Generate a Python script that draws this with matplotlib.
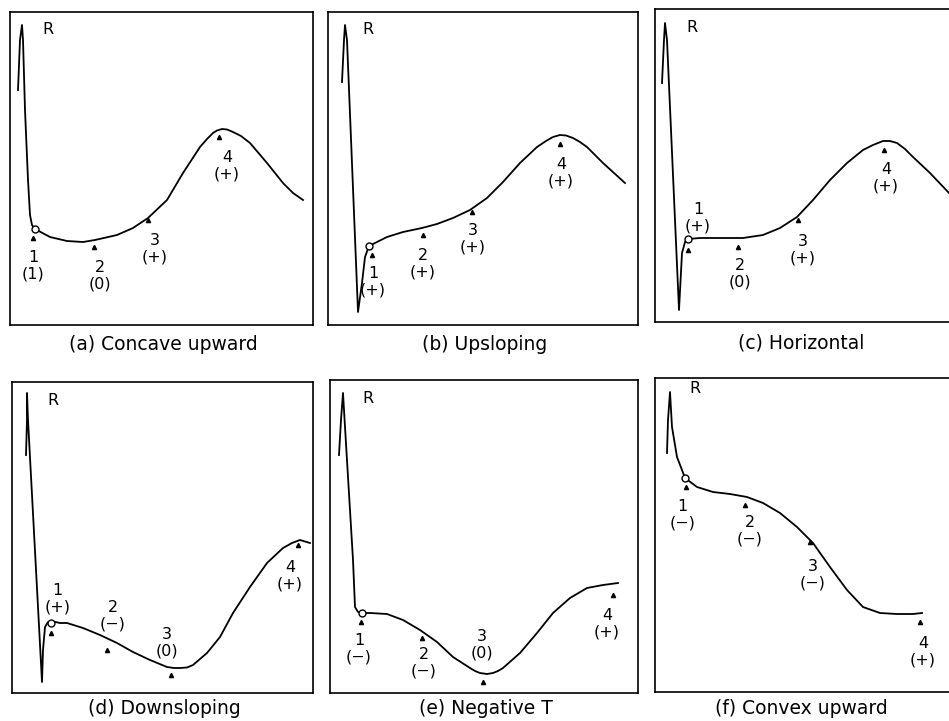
import matplotlib
matplotlib.use("Agg")
import matplotlib.pyplot as plt

plt.rcParams['font.family'] = ['DejaVu Sans']

# ---- data (panel-local pixel units: x from left edge, y from top edge) ----
titles = ["(a) Concave upward", "(b) Upsloping", "(c) Horizontal",
          "(d) Downsloping", "(e) Negative T", "(f) Convex upward"]

a_x = [8, 10, 12, 13, 15, 18, 20, 22, 25, 40, 57, 73, 85, 107, 123, 138, 157, 173, 190, 197, 203, 207, 212, 217, 223, 231, 240, 257, 273, 283, 293]
a_y = [78, 28, 13, 28, 98, 168, 203, 213, 217, 225, 229, 230, 228, 223, 216, 206, 188, 161, 135, 127, 121, 118.5, 117, 117.5, 120, 124, 131, 151, 171, 181, 188]
b_x = [14, 16, 17, 19, 30, 34, 37, 41, 59, 75, 94, 109, 125, 142, 159, 175, 192, 209, 218, 225, 232, 238, 245, 252, 259, 275, 297]
b_y = [70, 28, 13, 28, 300, 271, 245, 234, 225, 220, 216, 212, 206, 198, 186, 170, 151, 135, 129, 125, 123, 123.5, 126, 130, 135, 151, 171]
c_x = [7, 9, 10, 12, 24, 27, 30, 33, 45, 88, 108, 125, 142, 158, 175, 192, 208, 218, 228, 235, 242, 250, 258, 275, 294]
c_y = [74, 31, 14, 31, 301, 244, 233, 230, 229, 229, 226, 219, 208, 191, 171, 154, 141, 136, 132, 132, 134, 140, 148, 164, 184]
d_x = [14, 15, 15, 16, 30, 31, 33, 36, 39, 48, 55, 71, 88, 105, 121, 138, 155, 162, 168, 175, 181, 195, 208, 221, 238, 255, 271, 280, 288, 298]
d_y = [73, 38, 11, 38, 300, 268, 245, 240, 239, 241, 241, 246, 253, 261, 270, 278, 285, 286, 286, 285.5, 283, 271, 255, 231, 205, 181, 166, 161, 158, 161]
e_x = [9, 11, 13, 15, 23, 25, 28, 32, 40, 57, 73, 90, 107, 123, 140, 145, 150, 157, 163, 168, 173, 190, 207, 223, 240, 257, 273, 288]
e_y = [75, 40, 13, 47, 180, 227, 232, 233, 233, 234, 240, 250, 262, 277, 288, 291, 293, 294, 293, 291, 288, 273, 253, 233, 218, 208, 205, 203]
f_x = [12, 13, 15, 17, 22, 27, 30, 42, 58, 75, 92, 108, 125, 142, 158, 175, 192, 208, 225, 242, 258, 267]
f_y = [75, 42, 14, 49, 79, 92, 100, 109, 114, 116, 119, 125, 135, 149, 165, 189, 212, 229, 235, 236, 236, 235]

# J-point circles
circ_x = [25, 41, 33, 39, 32, 30]
circ_y = [217, 234, 230, 241, 233, 100]

# measurement point markers (4 per panel)
mk_x = [[23, 84, 138, 209], [44, 95, 144, 232], [33, 83, 143, 229],
        [39, 95, 159, 286], [31, 92, 153, 283], [31, 90, 155, 265]]
mk_y = [[226, 235, 208, 125], [243, 223, 200, 132], [241, 238, 211, 141],
        [251, 268, 293, 163], [242, 258, 302, 215], [109, 127, 164, 244]]

# point labels
lab_text = [["1\n(1)", "2\n(0)", "3\n(+)", "4\n(+)"],
            ["1\n(+)", "2\n(+)", "3\n(+)", "4\n(+)"],
            ["1\n(+)", "2\n(0)", "3\n(+)", "4\n(+)"],
            ["1\n(+)", "2\n(\u2212)", "3\n(0)", "4\n(+)"],
            ["1\n(\u2212)", "2\n(\u2212)", "3\n(0)", "4\n(+)"],
            ["1\n(\u2212)", "2\n(\u2212)", "3\n(\u2212)", "4\n(+)"]]
lab_x = [[23, 90, 145, 217], [45, 95, 145, 233], [43, 85, 148, 231],
         [45.5, 101, 155, 278], [29, 94, 152, 277], [27.5, 95, 157.5, 268]]
lab_y = [[254, 264, 237, 154], [269.5, 252, 227, 160.5], [208.5, 265, 241, 168.5],
         [217, 234, 260.5, 194], [268.5, 282.5, 265, 244], [137, 153, 197, 273.5]]

r_x = [38, 40, 37, 41, 38, 40]
r_y = [18, 18, 18, 18, 18, 10]
title_y = [333, 333, 334, 326, 328, 330]

# panel boxes in image pixels: left, top, width, height
boxes = [(10, 12, 303, 313), (328, 12, 310, 313), (655, 9, 296, 313),
         (12, 382, 301, 311), (330, 380, 308, 313), (655, 378, 296, 314)]

curves = [(a_x, a_y), (b_x, b_y), (c_x, c_y), (d_x, d_y), (e_x, e_y), (f_x, f_y)]

W, H = 949, 721
fig = plt.figure(figsize=(W / 100, H / 100), dpi=100)
fig.patch.set_facecolor('white')

for i, (L, T, bw, bh) in enumerate(boxes):
    ax = fig.add_axes([L / W, 1 - (T + bh) / H, bw / W, bh / H])
    ax.set_xlim(0, bw)
    ax.set_ylim(bh, 0)
    ax.set_xticks([])
    ax.set_yticks([])
    for s in ax.spines.values():
        s.set_linewidth(1.2)
        s.set_color('black')
    cx, cy = curves[i]
    ax.plot(cx, cy, color='black', lw=1.3, solid_joinstyle='round', clip_on=False)
    ax.plot([circ_x[i]], [circ_y[i]], 'o', ms=5, mfc='white', mec='black', mew=1.0, zorder=5)
    ax.plot(mk_x[i], mk_y[i], '^', ms=3, color='black', lw=0)
    for t, x, y in zip(lab_text[i], lab_x[i], lab_y[i]):
        ax.text(x, y, t, ha='center', va='center', fontsize=11.5, linespacing=1.15)
    ax.text(r_x[i], r_y[i], "R", ha='center', va='center', fontsize=11.5)
    ax.text(bw / 2 + (2 if i % 3 != 2 else -2), title_y[i], titles[i], ha='center', va='center',
            fontsize=13.5, clip_on=False)

fig.savefig("out.png", dpi=100, facecolor='white')
